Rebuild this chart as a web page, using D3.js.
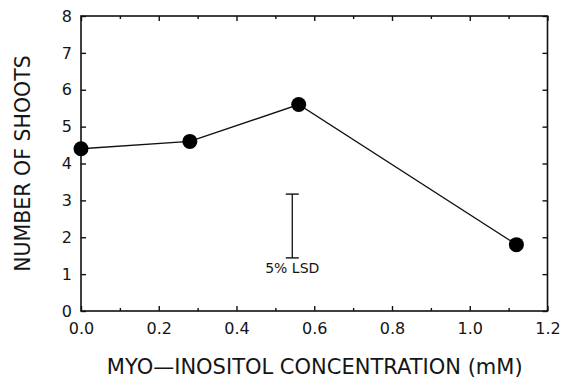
<!DOCTYPE html>
<html>
<head>
<meta charset="utf-8">
<script src="https://cdn.jsdelivr.net/npm/d3@7"></script>
<style>
  body { margin: 0; background: #fff; }
  svg text { font-family: "DejaVu Sans", "Liberation Sans", sans-serif; fill: #151515; }
</style>
</head>
<body>
<div id="chart"></div>
<script>
// data
var concentration = [0.0, 0.28, 0.56, 1.12];
var shoots = [4.4, 4.6, 5.6, 1.8];
var xTicks = [0.0, 0.2, 0.4, 0.6, 0.8, 1.0, 1.2];
var xMinorTicks = [0.1, 0.3, 0.5, 0.7, 0.9, 1.1];
var yTicks = [0, 1, 2, 3, 4, 5, 6, 7, 8];
var lsdX = [0.5435];
var lsdRange = [1.44, 3.17];

var width = 563, height = 380;
var margin = {left: 81, right: 15.5, top: 16, bottom: 69};

var svg = d3.select('#chart')
  .append('svg')
  .attr('width', width)
  .attr('height', height);

var x = d3.scaleLinear().domain([0, 1.2]).range([margin.left, width - margin.right]);
var y = d3.scaleLinear().domain([0, 8]).range([height - margin.bottom, margin.top]);

var fmt = d3.format('.1f');

function styleAxis(g) {
  g.select('.domain').remove();
  g.selectAll('.tick line').attr('stroke', '#111').attr('stroke-width', 1.4);
  g.attr('font-family', null);
}

// bottom axis, ticks pointing inside
svg.append('g')
  .attr('transform', `translate(0,${y(0)})`)
  .call(d3.axisBottom(x).tickValues(xTicks).tickFormat(fmt).tickSizeInner(-5).tickPadding(12))
  .call(styleAxis)
  .selectAll('text').style('font-size', '16px');

svg.append('g')
  .attr('transform', `translate(0,${y(0)})`)
  .call(d3.axisBottom(x).tickValues(xMinorTicks).tickFormat('').tickSizeInner(-3))
  .call(styleAxis);

// top axis
svg.append('g')
  .attr('transform', `translate(0,${y(8)})`)
  .call(d3.axisTop(x).tickValues(xTicks).tickFormat('').tickSizeInner(-5))
  .call(styleAxis);

svg.append('g')
  .attr('transform', `translate(0,${y(8)})`)
  .call(d3.axisTop(x).tickValues(xMinorTicks).tickFormat('').tickSizeInner(-3))
  .call(styleAxis);

// left axis
svg.append('g')
  .attr('transform', `translate(${x(0)},0)`)
  .call(d3.axisLeft(y).tickValues(yTicks).tickFormat(d3.format('d')).tickSizeInner(-5).tickPadding(9))
  .call(styleAxis)
  .selectAll('text').style('font-size', '16px');

// right axis
svg.append('g')
  .attr('transform', `translate(${x(1.2)},0)`)
  .call(d3.axisRight(y).tickValues(yTicks).tickFormat('').tickSizeInner(-5))
  .call(styleAxis);

// frame
svg.append('rect')
  .attr('x', x(0))
  .attr('y', y(8))
  .attr('width', x(1.2) - x(0))
  .attr('height', y(0) - y(8))
  .attr('fill', 'none')
  .attr('stroke', '#111')
  .attr('stroke-width', 1.6);

// data line
var pts = concentration.map((c, i) => [c, shoots[i]]);

svg.append('path')
  .datum(pts)
  .attr('fill', 'none')
  .attr('stroke', '#111')
  .attr('stroke-width', 1.4)
  .attr('d', d3.line().x(d => x(d[0])).y(d => y(d[1])));

svg.selectAll('.dot')
  .data(pts)
  .enter()
  .append('circle')
  .attr('class', 'dot')
  .attr('cx', d => x(d[0]))
  .attr('cy', d => y(d[1]))
  .attr('r', 7.5)
  .attr('fill', '#000');

// 5% LSD bar
var gLsd = svg.append('g');
var lx = x(lsdX[0]);
gLsd.append('line')
  .attr('x1', lx).attr('x2', lx)
  .attr('y1', y(lsdRange[0])).attr('y2', y(lsdRange[1]))
  .attr('stroke', '#111').attr('stroke-width', 1.3);
lsdRange.forEach(function(v) {
  gLsd.append('line')
    .attr('x1', lx - 6.5).attr('x2', lx + 6.5)
    .attr('y1', y(v)).attr('y2', y(v))
    .attr('stroke', '#111').attr('stroke-width', 1.4);
});
gLsd.append('text')
  .attr('x', lx)
  .attr('y', y(lsdRange[0]) + 15.5)
  .attr('text-anchor', 'middle')
  .style('font-size', '14px')
  .text('5% LSD');

// axis titles
svg.append('text')
  .attr('x', (x(0) + x(1.2)) / 2 + 0.5)
  .attr('y', 374)
  .attr('text-anchor', 'middle')
  .style('font-size', '21px')
  .text('MYO\u2014INOSITOL CONCENTRATION (mM)');

svg.append('text')
  .attr('transform', `translate(30,${(y(0) + y(8)) / 2}) rotate(-90)`)
  .attr('text-anchor', 'middle')
  .style('font-size', '20.5px')
  .text('NUMBER OF SHOOTS');
</script>
</body>
</html>
